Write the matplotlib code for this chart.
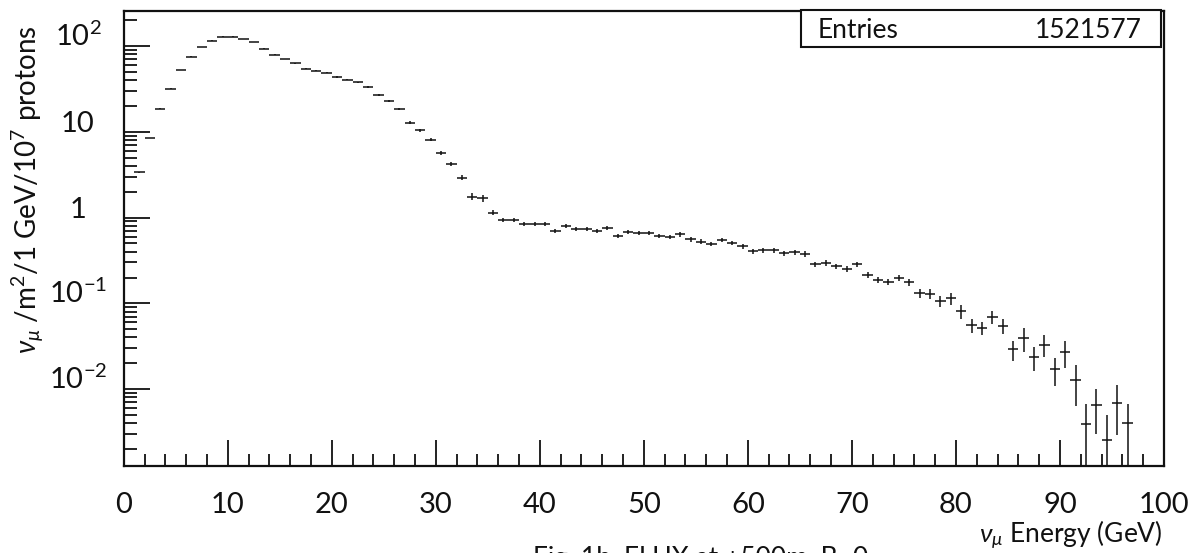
import numpy as np
import matplotlib
matplotlib.use("Agg")
import matplotlib.pyplot as plt
from matplotlib.ticker import LogLocator, NullFormatter, FixedLocator
from matplotlib.patches import Rectangle

FONT = ["Lato", "Liberation Sans", "DejaVu Sans"]
plt.rcParams["font.family"] = FONT
plt.rcParams["mathtext.fontset"] = "custom"
plt.rcParams["mathtext.rm"] = "Lato"
plt.rcParams["mathtext.it"] = "Lato:italic"
plt.rcParams["mathtext.sf"] = "Lato"

# 1 GeV bins from 0 to 100 GeV
bin_low = np.arange(0, 100)

flux = [0, 3.38, 8.42, 18.6, 31.9, 52.2, 75.2, 96.8, 115.6, 128.7,
        128.7, 121.0, 110.7, 93.3, 79.4, 70.8, 63.0, 54.5, 51.3, 48.6,
        43.6, 40.6, 37.8, 33.1, 26.9, 23.1, 18.3, 12.8, 10.4, 8.11,
        5.63, 4.19, 2.92, 1.76, 1.68, 1.14, 0.94, 0.94, 0.845, 0.845,
        0.845, 0.70, 0.807, 0.745, 0.732, 0.70, 0.762, 0.617, 0.678, 0.669,
        0.66, 0.614, 0.59, 0.637, 0.557, 0.525, 0.494, 0.547, 0.503, 0.464,
        0.407, 0.418, 0.418, 0.383, 0.393, 0.377, 0.285, 0.296, 0.269, 0.250,
        0.286, 0.213, 0.188, 0.179, 0.197, 0.176, 0.131, 0.129, 0.107, 0.114,
        0.081, 0.056, 0.052, 0.070, 0.055, 0.029, 0.0393, 0.0236, 0.033, 0.0171,
        0.027, 0.0128, 0.00394, 0.00656, 0.00252, 0.00698, 0.00401, 0, 0, 0]

flux_err = [0, 0.03, 0.06, 0.12, 0.2, 0.3, 0.4, 0.5, 0.6, 0.6,
            0.6, 0.6, 0.6, 0.6, 0.6, 0.6, 0.6, 0.6, 0.6, 0.7,
            0.7, 0.7, 0.7, 0.7, 0.7, 0.6, 0.5, 0.4, 0.4, 0.3,
            0.3, 0.25, 0.2, 0.15, 0.16, 0.08, 0.05, 0.05, 0.045, 0.045,
            0.045, 0.038, 0.042, 0.04, 0.04, 0.038, 0.045, 0.035, 0.037, 0.036,
            0.036, 0.034, 0.033, 0.036, 0.032, 0.031, 0.029, 0.033, 0.03, 0.029,
            0.026, 0.027, 0.027, 0.026, 0.026, 0.026, 0.021, 0.022, 0.02, 0.019,
            0.021, 0.017, 0.016, 0.015, 0.016, 0.015, 0.017, 0.017, 0.016, 0.018,
            0.0145, 0.0105, 0.0088, 0.0124, 0.0107, 0.0077, 0.0122, 0.0074, 0.0095, 0.0061,
            0.0092, 0.0065, 0.0027, 0.0036, 0.0025, 0.0041, 0.0027, 0, 0, 0]

entries_text = "1521577"
x_tickvals = [0, 10, 20, 30, 40, 50, 60, 70, 80, 90, 100]
x_ticklabels = ["0", "10", "20", "30", "40", "50", "60", "70", "80", "90", "100"]
y_tickvals = [0.01, 0.1, 1, 10, 100]
y_ticklabels = [r"$10^{-2}$", r"$10^{-1}$", "1", "10", r"$10^{2}$"]

W, H = 1199, 553
fig = plt.figure(figsize=(W / 100, H / 100), dpi=100)


def fx(px):
    return px / W


def fy(py):
    return 1 - py / H


ax = fig.add_axes([fx(123.7), fy(466), fx(1164) - fx(123.7), fy(11) - fy(466)])

vals = np.array(flux)
errs = np.array(flux_err)
filled = vals > 0
centers = bin_low[filled] + 0.5
v = vals[filled]
e = errs[filled]
lower = np.minimum(e, v * 0.9999)

ax.errorbar(centers, v, xerr=0.5, yerr=[lower, e], fmt="none",
            ecolor="#111111", elinewidth=1.1, capsize=0)

ax.set_yscale("log")
ax.set_xlim(0, 100)
ax.set_ylim(0.00127, 256)

ax.set_xticks(x_tickvals)
ax.set_xticklabels(x_ticklabels, fontsize=21)
ax.xaxis.set_minor_locator(FixedLocator([t for t in range(2, 100, 2) if t % 10]))

ax.set_yticks(y_tickvals)
ax.set_yticklabels(y_ticklabels, fontsize=21, ha="center", va="baseline")
ax.yaxis.set_minor_locator(LogLocator(base=10, subs=np.arange(2, 10), numticks=30))
ax.yaxis.set_minor_formatter(NullFormatter())

ax.tick_params(which="major", direction="in", length=19, width=1.3,
               top=False, right=False, color="#111111")
ax.tick_params(which="minor", direction="in", length=9, width=1.3,
               top=False, right=False, color="#111111")
ax.tick_params(axis="x", pad=19, labelcolor="#111111")
ax.tick_params(axis="y", pad=33, labelcolor="#111111")

for s in ax.spines.values():
    s.set_linewidth(1.6)
    s.set_color("#111111")

# statistics box
fig.patches.append(Rectangle((fx(800.7), fy(47)), fx(1161) - fx(800.7), fy(10) - fy(47),
                             transform=fig.transFigure, fill=True, facecolor="white",
                             edgecolor="#111111", linewidth=1.5, zorder=5))
fig.text(fx(818), fy(38), "Entries", fontsize=19, color="#111111",
         ha="left", va="baseline", zorder=6)
fig.text(fx(1142), fy(38), entries_text, fontsize=19, color="#111111",
         ha="right", va="baseline", zorder=6)

fig.text(fx(28), fy(190), r"$\nu_{\mu}$ /m$^{2}$/1 GeV/10$^{7}$ protons", rotation=90,
         fontsize=20, color="#111111", ha="center", va="center")

fig.text(fx(1163), fy(543), r"$\nu_{\mu}$ Energy (GeV)", fontsize=19, color="#111111",
         ha="right", va="baseline")

fig.text(fx(533), fy(546), "Fig. 1b. FLUX at +500m, B=0", fontsize=19, color="#111111",
         ha="left", va="top")

fig.savefig("out.png", dpi=100)
